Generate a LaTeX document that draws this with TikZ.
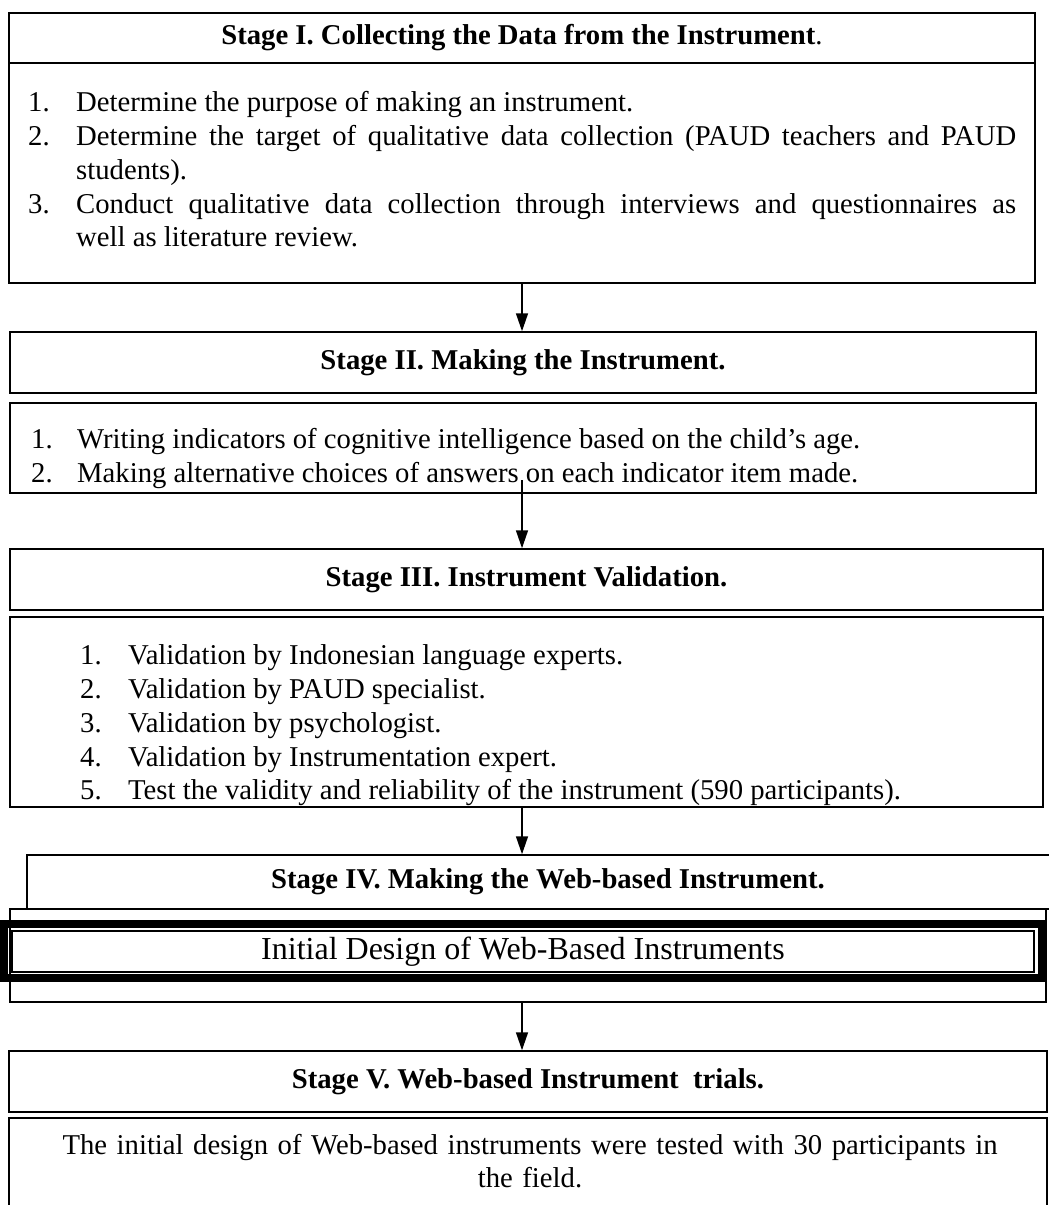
\documentclass[tikz,border=0pt]{standalone}
\usepackage{fontspec}
\setmainfont{Liberation Serif}
\usetikzlibrary{arrows.meta,fit}

% numbered paragraph with hanging indent: [number width]{number}{text}
\newcommand\listitem[3][48pt]{\par\hangindent=#1\hangafter=1\noindent
  \rule{0pt}{24pt}\makebox[#1][l]{#2}#3\par}

\begin{document}
\begin{tikzpicture}[x=1pt,y=-1pt,
    every node/.append style={font=\fontsize{28.7pt}{33.75pt}\selectfont},
    frame/.style={draw=black, line width=1.5pt, rectangle, inner sep=0pt},
    label text/.style={inner sep=0pt, anchor=center},
    listtext/.style={anchor=north west, inner sep=0pt, align=justify, text width=#1},
    arr/.style={draw=black, line width=1.5pt, -{Triangle[length=18pt,width=12pt]}}]
\useasboundingbox (0,0) rectangle (1049,1205);
\clip (0,0) rectangle (1049,1205);
\hyphenpenalty=10000 \exhyphenpenalty=10000

\coordinate (axis) at (522,0);

% Stage I
\node[frame, fit={(9,13)(1035,63)}] (h1) {};
\node[label text] (h1t) at (h1.center)
  {\textbf{Stage I. Collecting the Data from the Instrument}.};
\node[frame, fit={(9,63)(1035,283)}] (b1) {};
\node[listtext=988pt] (l1) at (28,78) {\parskip=0pt
  \listitem{1.}{Determine the purpose of making an instrument.}
  \listitem{2.}{Determine the target of qualitative data collection (PAUD teachers and PAUD students).}
  \listitem{3.}{Conduct qualitative data collection through interviews and questionnaires as\linebreak well as literature review.}};

% Stage II
\node[frame, fit={(10,332)(1036,393)}] (h2) {};
\node[label text] (h2t) at (h2.center) {\textbf{Stage II. Making the Instrument.}};
\node[frame, fit={(10,403)(1036,493)}] (b2) {};
\node[listtext=1000pt] (l2) at (31,415) {\parskip=0pt
  \listitem[46pt]{1.}{Writing indicators of cognitive intelligence based on the child’s age.}
  \listitem[46pt]{2.}{Making alternative choices of answers on each indicator item made.}};
\coordinate (a2) at (522,480);

% Stage III
\node[frame, fit={(10,549)(1043,610)}] (h3) {};
\node[label text] (h3t) at (h3.center) {\textbf{Stage III. Instrument Validation.}};
\node[frame, fit={(10,617)(1043,807)}] (b3) {};
\node[listtext=940pt] (l3) at (80,631) {\parskip=0pt
  \listitem{1.}{Validation by Indonesian language experts.}
  \listitem{2.}{Validation by PAUD specialist.}
  \listitem{3.}{Validation by psychologist.}
  \listitem{4.}{Validation by Instrumentation expert.}
  \listitem{5.}{Test the validity and reliability of the instrument (590 participants).}};

% Stage IV: header runs off the right edge, inner box with a thick-thin border
\node[frame, fit={(27,855)(1069,909)}] (h4) {};
\node[label text] (h4t) at (h4.center) {\textbf{Stage IV. Making the Web-based Instrument.}};
\node[frame, fit={(10,909)(1046,1002)}] (b4) {};
\node[draw=black, line width=8pt, rectangle, inner sep=0pt, fit={(4,924)(1042,978)}] (t4) {};
\node[frame, fit={(12,931)(1034,972)}] (t4in) {};
\node[label text, font=\fontsize{32pt}{38pt}\selectfont] (t4t) at (t4in.center)
  {Initial Design of Web-Based Instruments};

% Stage V
\node[frame, fit={(9,1051)(1047,1112)}] (h5) {};
\node[label text] (h5t) at (h5.center) {\textbf{Stage V. Web-based Instrument\ \ trials.}};
\node[frame, fit={(9,1118)(1047,1260)}] (b5) {};
\node[anchor=north, inner sep=0pt, align=center, text width=1000pt] (l5) at (530,1130)
  {\rule{0pt}{24pt}The initial design of Web-based instruments were tested with 30 participants in\\ the field.};

% connectors
\draw[arr] (b1.south -| axis) -- (h2.north -| axis);
\draw[arr] (a2) -- (h3.north -| axis);
\draw[arr] (b3.south -| axis) -- (h4.north -| axis);
\draw[arr] (b4.south -| axis) -- (h5.north -| axis);
\end{tikzpicture}
\end{document}
